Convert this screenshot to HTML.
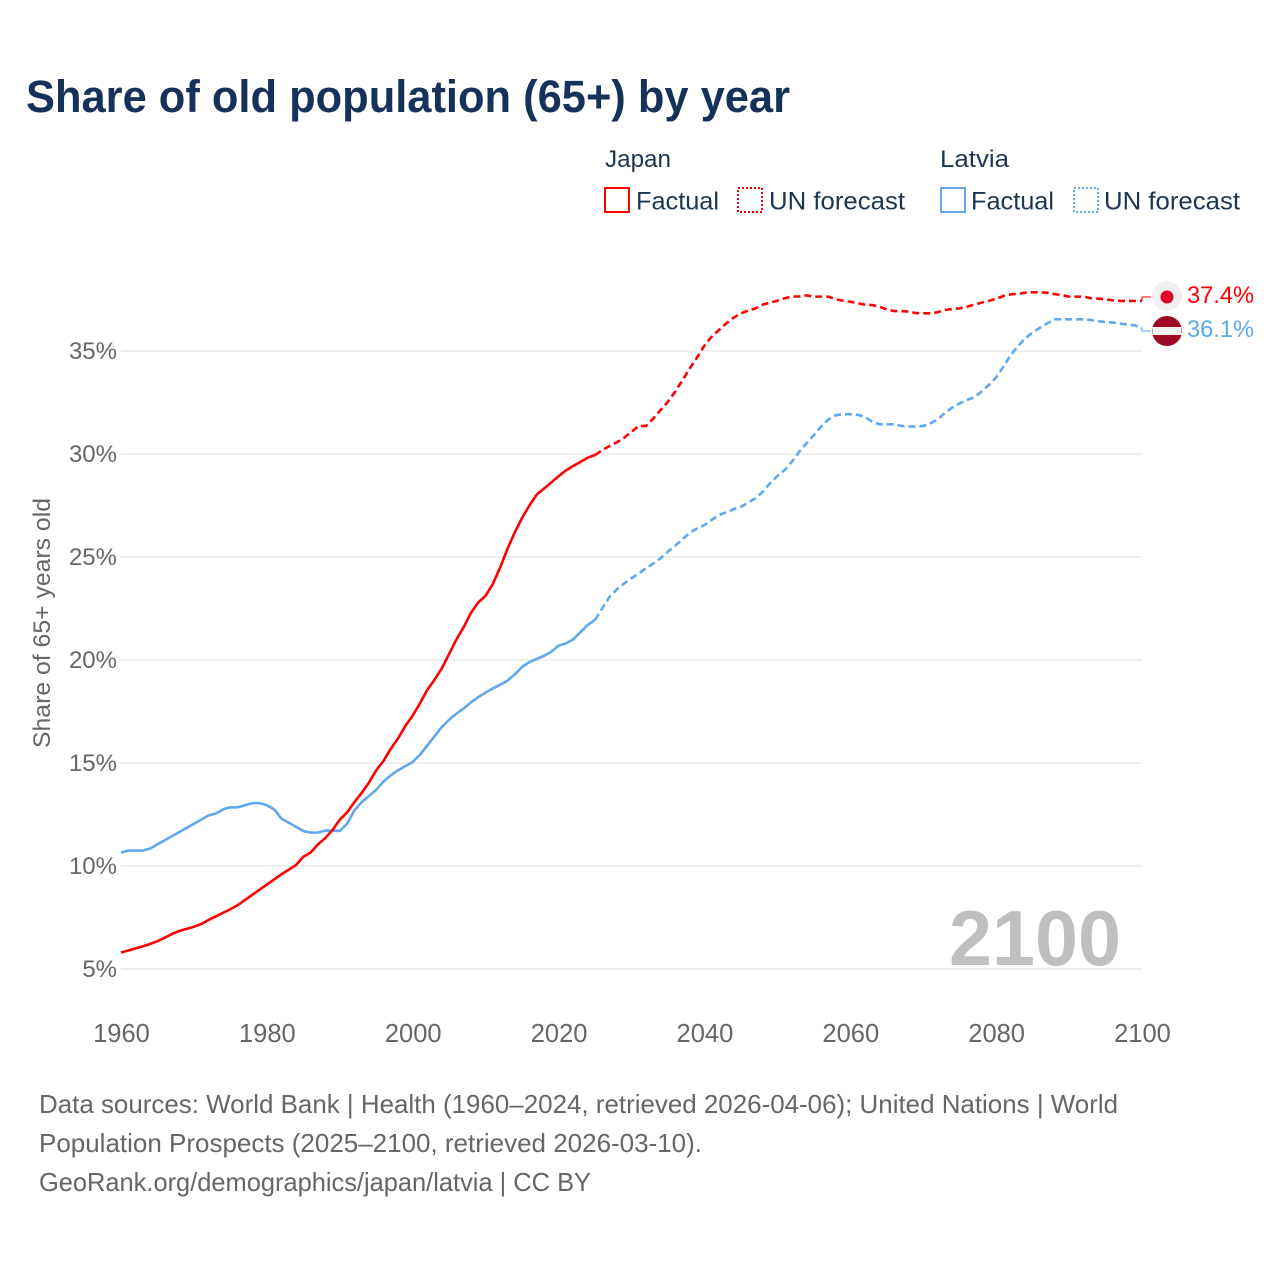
<!DOCTYPE html>
<html lang="en">
<head>
<meta charset="utf-8">
<title>Share of old population (65+) by year</title>
<style>
html,body{margin:0;padding:0;background:#fff;width:1280px;height:1280px;overflow:hidden}
svg{display:block;font-family:"Liberation Sans",sans-serif}
.navy{fill:#1b3553}
.grey{fill:#666}
</style>
</head>
<body>
<svg id="chart" xmlns="http://www.w3.org/2000/svg" width="1280" height="1280" viewBox="0 0 1280 1280">
  <rect x="0" y="0" width="1280" height="1280" fill="#fff"/>
  <text x="26" y="112" font-size="45" font-weight="700" fill="#17325a" textLength="764" lengthAdjust="spacingAndGlyphs">Share of old population (65+) by year</text>

  <g>
    <text class="navy" x="605" y="167" font-size="24" textLength="66" lengthAdjust="spacingAndGlyphs">Japan</text>
    <rect x="605" y="188" width="24" height="24" fill="none" stroke="#ff0000" stroke-width="2"/>
    <text class="navy" x="636" y="209.5" font-size="25" textLength="83" lengthAdjust="spacingAndGlyphs">Factual</text>
    <rect x="738" y="188" width="24" height="24" fill="none" stroke="#ff0000" stroke-width="2" stroke-dasharray="2 2"/>
    <text class="navy" x="769" y="209.5" font-size="25" textLength="136" lengthAdjust="spacingAndGlyphs">UN forecast</text>

    <text class="navy" x="940" y="167" font-size="24" textLength="69" lengthAdjust="spacingAndGlyphs">Latvia</text>
    <rect x="941" y="188" width="24" height="24" fill="none" stroke="#5fa8ee" stroke-width="2"/>
    <text class="navy" x="971" y="209.5" font-size="25" textLength="83" lengthAdjust="spacingAndGlyphs">Factual</text>
    <rect x="1074" y="188" width="24" height="24" fill="none" stroke="#5fa8ee" stroke-width="2" stroke-dasharray="2 2"/>
    <text class="navy" x="1104" y="209.5" font-size="25" textLength="136" lengthAdjust="spacingAndGlyphs">UN forecast</text>
  </g>

  <g id="grid"></g>
  <g id="yticks"></g>
  <g id="xticks"></g>

  <text class="grey" transform="translate(50,623) rotate(-90)" text-anchor="middle" font-size="24" textLength="250" lengthAdjust="spacingAndGlyphs">Share of 65+ years old</text>

  <text x="949" y="965" font-size="78" font-weight="700" fill="#bfbfbf" textLength="172" lengthAdjust="spacingAndGlyphs">2100</text>

  <g id="series"></g>

  <g>
    <circle cx="1167" cy="296" r="15" fill="#f0f0f0"/>
    <circle cx="1167" cy="297" r="6.5" fill="#e0002a"/>
    <text x="1187" y="303" font-size="24" fill="#ff0000" textLength="67" lengthAdjust="spacingAndGlyphs">37.4%</text>
  </g>
  <g>
    <circle cx="1167" cy="331" r="15" fill="#9e0a24"/>
    <rect x="1152.5" y="327" width="29" height="8" fill="#f0f0f0"/>
    <text x="1187" y="337" font-size="24" fill="#5fa8ee" textLength="67" lengthAdjust="spacingAndGlyphs">36.1%</text>
  </g>

  <g>
    <text class="grey" x="39" y="1113" font-size="26" textLength="1079" lengthAdjust="spacingAndGlyphs">Data sources: World Bank | Health (1960–2024, retrieved 2026-04-06); United Nations | World</text>
    <text class="grey" x="39" y="1152" font-size="26" textLength="663" lengthAdjust="spacingAndGlyphs">Population Prospects (2025–2100, retrieved 2026-03-10).</text>
    <text class="grey" x="39" y="1191" font-size="26" textLength="552" lengthAdjust="spacingAndGlyphs">GeoRank.org/demographics/japan/latvia | CC BY</text>
  </g>
</svg>

<script>
const yTickValues = [5, 10, 15, 20, 25, 30, 35];
const xTickYears = [1960, 1980, 2000, 2020, 2040, 2060, 2080, 2100];
const factualStartYear = 1960;
const forecastStartYear = 2025;

const japanFactual = [5.8,5.9,6.0,6.1,6.22,6.35,6.52,6.7,6.85,6.95,7.05,7.18,7.38,7.55,7.73,7.9,8.1,8.35,8.6,8.85,9.1,9.35,9.6,9.82,10.05,10.45,10.65,11.05,11.35,11.75,12.25,12.6,13.1,13.55,14.05,14.65,15.1,15.7,16.2,16.8,17.3,17.9,18.55,19.05,19.6,20.3,21.0,21.6,22.3,22.8,23.12,23.7,24.5,25.4,26.2,26.9,27.5,28.03,28.32,28.62,28.92,29.2,29.42,29.62,29.82,29.95];
const latviaFactual = [10.65,10.75,10.75,10.75,10.85,11.05,11.25,11.45,11.65,11.85,12.05,12.25,12.45,12.55,12.75,12.85,12.85,12.95,13.05,13.05,12.95,12.75,12.3,12.1,11.9,11.7,11.62,11.62,11.72,11.72,11.7,12.05,12.7,13.1,13.4,13.7,14.1,14.4,14.65,14.85,15.05,15.4,15.85,16.3,16.75,17.1,17.4,17.65,17.95,18.2,18.42,18.62,18.8,19.0,19.3,19.66,19.9,20.05,20.2,20.4,20.7,20.8,21.0,21.35,21.7,21.95];
const japanForecast = [29.95,30.19,30.39,30.57,30.79,31.08,31.36,31.36,31.73,32.14,32.54,33.03,33.59,34.16,34.69,35.26,35.7,36.02,36.34,36.62,36.83,36.96,37.07,37.25,37.35,37.44,37.56,37.64,37.65,37.7,37.64,37.64,37.64,37.51,37.44,37.39,37.32,37.25,37.23,37.15,37.02,36.94,36.94,36.91,36.84,36.83,36.83,36.88,36.99,37.04,37.07,37.15,37.25,37.35,37.43,37.54,37.67,37.75,37.78,37.83,37.85,37.85,37.83,37.76,37.72,37.64,37.64,37.64,37.56,37.54,37.51,37.46,37.43,37.43,37.43,37.44];
const latviaForecast = [21.95,22.51,23.07,23.43,23.72,23.97,24.21,24.45,24.69,24.94,25.26,25.55,25.86,26.18,26.39,26.55,26.8,27.04,27.17,27.32,27.44,27.64,27.85,28.17,28.58,28.93,29.22,29.63,30.11,30.52,30.92,31.33,31.68,31.88,31.93,31.93,31.9,31.81,31.57,31.44,31.44,31.44,31.36,31.34,31.33,31.36,31.49,31.68,32.0,32.26,32.46,32.62,32.75,33.03,33.35,33.72,34.24,34.81,35.24,35.62,35.89,36.13,36.34,36.54,36.54,36.54,36.54,36.54,36.5,36.44,36.41,36.38,36.33,36.28,36.25,36.1];

const NS = 'http://www.w3.org/2000/svg';
const xScale = function (year) { return 121 + (year - 1960) * (1021 / 140); };
const yScale = function (v) { return 969 - (v - 5) * 20.6; };

function linePath(values, startYear) {
  return values.map(function (v, i) {
    return (i ? 'L' : 'M') + xScale(startYear + i).toFixed(2) + ' ' + yScale(v).toFixed(2);
  }).join(' ');
}

const grid = document.getElementById('grid');
const yticks = document.getElementById('yticks');
yTickValues.forEach(function (v) {
  const gl = document.createElementNS(NS, 'line');
  gl.setAttribute('x1', xScale(1960));
  gl.setAttribute('x2', xScale(2100));
  gl.setAttribute('y1', yScale(v));
  gl.setAttribute('y2', yScale(v));
  gl.setAttribute('stroke', '#efefef');
  gl.setAttribute('stroke-width', '2');
  
  
  grid.appendChild(gl);

  const t = document.createElementNS(NS, 'text');
  t.setAttribute('x', 117);
  t.setAttribute('y', yScale(v) + 8);
  t.setAttribute('text-anchor', 'end');
  t.setAttribute('font-size', '24');
  t.setAttribute('fill', '#666');
  
  
  t.textContent = v + '%';
  yticks.appendChild(t);
});

const xticks = document.getElementById('xticks');
xTickYears.forEach(function (yr) {
  const t = document.createElementNS(NS, 'text');
  t.setAttribute('x', xScale(yr) + 0.5);
  t.setAttribute('y', 1042);
  t.setAttribute('text-anchor', 'middle');
  t.setAttribute('font-size', '25.5');
  t.setAttribute('fill', '#666');
  
  
  t.textContent = yr;
  xticks.appendChild(t);
});

const seriesGroup = document.getElementById('series');

function addLine(values, startYear, color, dashed, name) {
  const p = document.createElementNS(NS, 'path');
  p.setAttribute('d', linePath(values, startYear));
  p.setAttribute('fill', 'none');
  p.setAttribute('stroke', color);
  p.setAttribute('stroke-width', '2.6');
  p.setAttribute('stroke-linejoin', 'round');
  if (dashed) {
    p.setAttribute('stroke-dasharray', '7 4');
  }
  
  
  seriesGroup.appendChild(p);
}

addLine(japanForecast, forecastStartYear, '#ff0000', true, 'japan-forecast-line');
addLine(latviaForecast, forecastStartYear, '#5fa8ee', true, 'latvia-forecast-line');
addLine(latviaFactual, factualStartYear, '#5fa8ee', false, 'latvia-factual-line');
addLine(japanFactual, factualStartYear, '#ff0000', false, 'japan-factual-line');

function addConnector(lastValue, markerY, color, name) {
  const c = document.createElementNS(NS, 'path');
  const xe = xScale(2100);
  c.setAttribute('d', 'M' + xe + ' ' + yScale(lastValue) + ' V' + markerY + ' H' + (xe + 9));
  c.setAttribute('fill', 'none');
  c.setAttribute('stroke', color);
  c.setAttribute('stroke-width', '1');
  
  
  seriesGroup.appendChild(c);
}

addConnector(japanForecast[japanForecast.length - 1], 297, '#ff0000', 'japan-end-connector');
addConnector(latviaForecast[latviaForecast.length - 1], 331, '#5fa8ee', 'latvia-end-connector');
</script>
</body>
</html>
